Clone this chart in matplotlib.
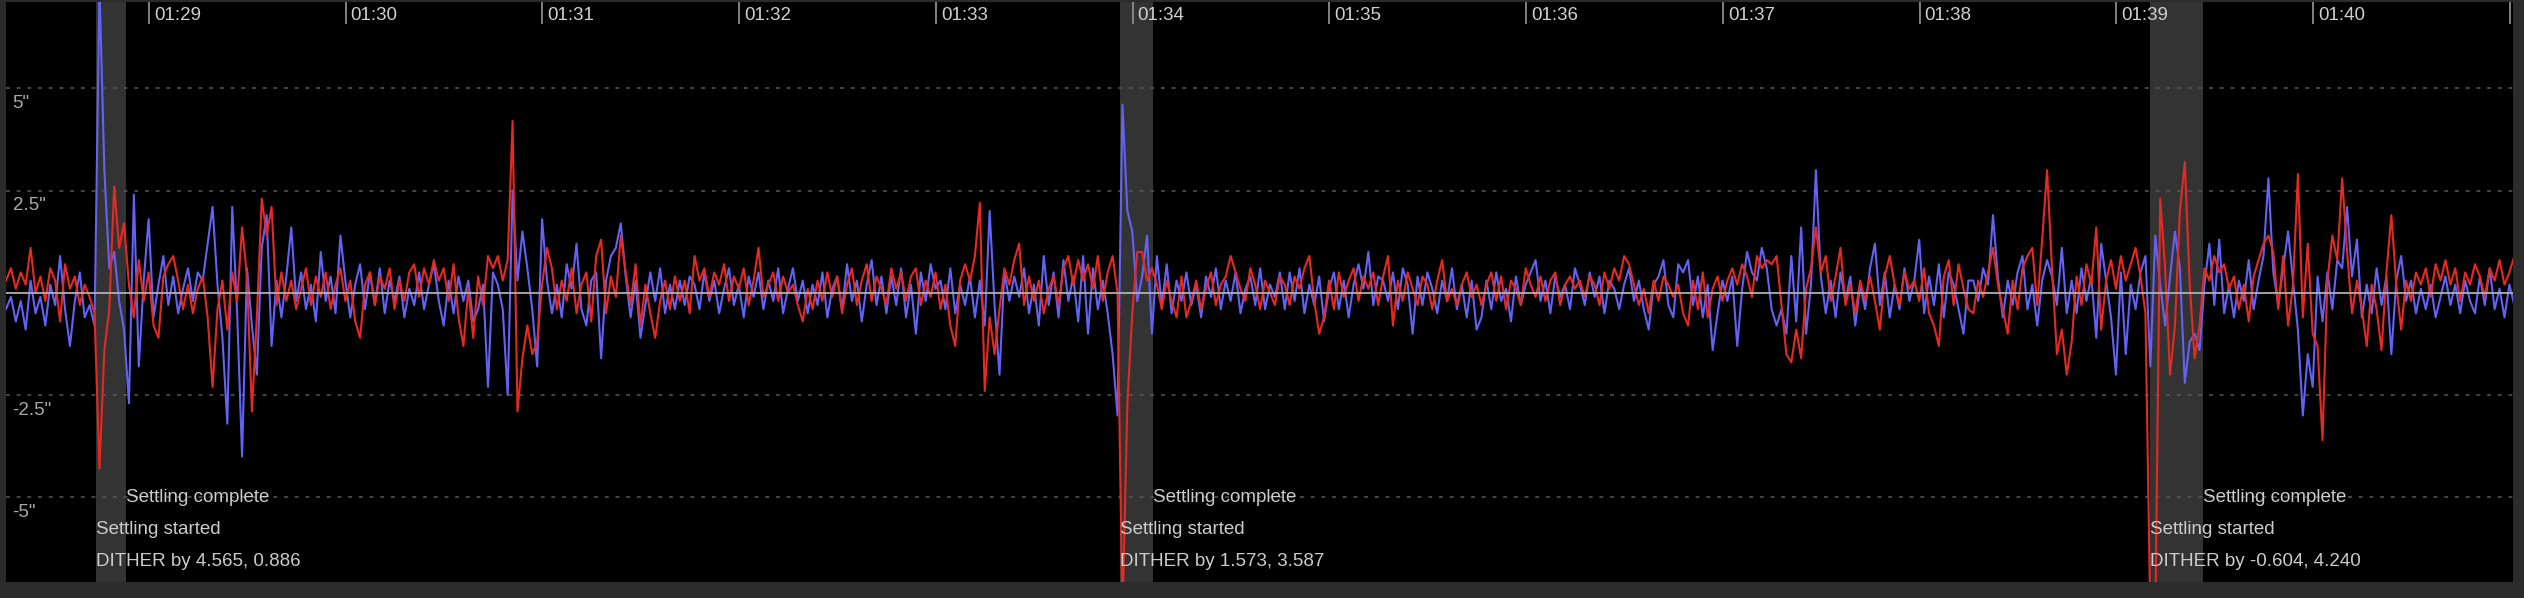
import matplotlib
matplotlib.use("Agg")
import matplotlib.pyplot as plt
import numpy as np

plt.rcParams["font.family"] = ["Liberation Sans", "DejaVu Sans"]

# guide log: one sample every 1.5 s, first sample at 01:28:16.4 (seconds since 00:00)
start_s = 5296.4
step_s = 1.5
view_end_s = 6061.0

# RA error (arcsec), blue
ra = [
    -0.4, -0.1, -0.7, -0.2, -0.9, 0.3, -0.5, -0.1, -0.8, 0.2, -0.3, 0.9, -0.4, -1.3, -0.2, 0.5, -0.6, -0.3, -0.8, 7.5,
    3.0, 0.6, 1.0, -0.2, -0.9, -2.7, 2.4, -1.8, 0.3, 1.8, -0.6, 0.2, 0.9, -0.3, 0.4, -0.5, 0.1, 0.6, -0.2, 0.5,
    0.3, 1.2, 2.1, 0.2, -1.1, -3.2, 2.1, -0.5, -4.0, 0.6, -0.8, -2.0, 1.1, 1.9, -1.3, 0.3, -0.6, 0.4, 1.6, -0.2,
    0.5, -0.4, 0.2, -0.7, 1.0, -0.2, 0.4, -0.5, 1.4, 0.3, -0.6, 0.2, 0.7, -0.4, 0.5, -0.3, 0.6, -0.5, 0.3, -0.2,
    0.4, -0.6, 0.1, -0.3, 0.5, -0.4, 0.2, 0.7, -0.2, -0.8, 0.3, -0.5, 0.4, -0.2, 0.3, -0.7, -0.4, 0.2, -2.3, 0.5,
    0.2, -0.4, -2.5, 2.5, 0.3, 1.5, 0.6, -0.4, -1.8, 1.8, 0.3, -0.5, 0.2, -0.6, 0.7, 0.1, 1.2, -0.4, -0.8, 0.3,
    0.5, -1.6, 0.3, 0.9, 1.1, 1.7, 0.4, -0.6, 0.3, -1.1, -0.3, 0.5, -0.2, 0.6, -0.5, 0.2, -0.4, 0.3, -0.3, 0.4,
    0.2, -0.4, 0.5, -0.2, 0.3, -0.5, 0.1, 0.6, -0.3, 0.2, -0.6, 0.4, -0.1, 0.5, -0.4, 0.3, -0.2, 0.6, -0.5, 0.1,
    0.6, -0.2, 0.3, -0.5, 0.2, -0.3, 0.5, -0.6, 0.1, 0.4, -0.4, 0.7, -0.2, 0.3, -0.7, 0.2, 0.8, -0.3, 0.4, -0.5,
    0.4, -0.3, 0.6, -0.6, 0.2, -1.0, 0.5, -0.2, 0.7, 0.1, 0.3, -0.4, 0.6, -0.5, 0.2, -0.3, 0.4, -0.6, 0.3, -0.8,
    2.0, -0.3, -2.0, 0.5, -0.2, 0.4, -0.1, 0.6, -0.5, 0.2, -0.8, 0.9, -0.3, 0.5, -0.6, 0.8, -0.2, 0.4, -0.7, 0.9,
    -1.0, 0.6, -0.4, 0.3, -0.5, -1.5, -3.0, 4.6, 2.0, 1.5, -0.2, 0.4, 1.4, -1.0, 0.9, -0.3, 0.7, -0.5, 0.3, -0.2,
    0.5, -0.3, 0.2, -0.6, 0.4, -0.1, 0.6, -0.4, 0.3, -0.2, 0.5, -0.5, 0.1, 0.4, -0.3, 0.6, -0.4, 0.2, -0.1, 0.5,
    -0.4, 0.5, -0.2, 0.6, -0.5, 0.2, -0.3, 0.4, -0.7, 0.1, 0.5, -0.4, 0.3, -0.6, 0.2, 0.7, 0.1, 1.0, -0.3, 0.4,
    0.3, -0.2, 0.5, -0.4, 0.6, 0.2, -1.0, 0.4, -0.3, 0.5, 0.1, -0.5, 0.3, -0.2, 0.6, -0.4, 0.2, -0.6, 0.3, -0.9,
    -0.6, 0.3, -0.4, 0.5, -0.2, 0.1, -0.7, 0.4, -0.3, 0.2, 0.5, 0.8, -0.2, 0.3, -0.5, 0.4, -0.1, 0.2, -0.4, 0.6,
    0.2, -0.3, 0.5, -0.1, 0.4, -0.5, 0.3, 0.1, -0.4, 0.2, 0.6, -0.2, 0.3, -0.4, -0.9, 0.2, 0.4, 0.8, -0.3, -0.6,
    0.7, 0.5, 0.8, -0.3, 0.4, -0.6, 0.2, -1.4, -0.5, 0.3, -0.2, 0.4, -1.3, 0.1, 1.0, 0.5, 0.3, 1.1, 0.6, -0.4,
    -0.8, -0.4, -1.0, 0.9, -0.7, 1.6, -1.0, 0.2, 3.0, 0.4, -0.5, 0.3, -0.6, 0.5, -0.2, 0.4, -0.8, 0.2, -0.4, 0.6,
    1.2, -0.3, 0.5, -0.6, 0.2, -0.4, 0.6, -0.2, 0.3, 1.3, -0.5, 0.4, -0.3, 0.7, -0.6, 0.5, 0.2, -0.4, -1.0, 0.3,
    0.3, -0.2, 0.6, 0.2, 1.9, 0.4, -0.6, 0.3, -0.3, 0.5, 0.9, -0.4, 0.2, -0.8, 0.3, 0.8, 0.4, -0.3, 1.1, -0.5,
    0.3, -0.5, 0.6, -0.2, 0.4, -1.1, 1.2, 0.3, -0.6, -2.0, 0.5, -1.5, 0.2, -0.4, 0.5, 0.9, -1.8, 1.4, 0.2, -0.8,
    0.4, 1.5, 0.6, -2.2, -1.2, -1.0, -1.4, 0.2, 1.2, -0.3, 1.3, -0.5, 0.2, -0.6, 0.3, -0.2, 0.8, -0.4, 0.3, 0.9,
    2.8, 0.5, -0.3, 0.6, 1.5, 0.3, -0.9, -3.0, -1.5, -2.3, 0.4, -0.7, 0.5, -0.4, 0.8, 0.6, 2.1, 0.4, 1.3, -0.6,
    0.2, -0.5, 0.6, -0.3, 0.4, -1.5, 0.3, 0.9, -0.2, 0.3, -0.5, 0.1, -0.4, 0.2, -0.6, -0.1, 0.4, -0.3, 0.2, -0.5,
    0.3, -0.2, -0.5, 0.4, -0.3, 0.6, -0.4, 0.1, -0.6, 0.2, -0.3,
]

# Dec error (arcsec), red
dec = [
    0.3, 0.6, 0.1, 0.5, 0.2, 1.1, 0.0, 0.4, -0.2, 0.6, 0.3, -0.7, 0.7, 0.1, 0.4, -0.3, 0.2, -0.1, -0.5, -4.3,
    -1.4, -0.4, 2.6, 1.1, 1.7, 0.2, -0.6, 0.8, -0.2, 0.5, -0.8, -1.1, 0.4, 0.7, 0.9, 0.3, -0.4, 0.2, -0.5, 0.1,
    0.4, -0.6, -2.3, -0.4, 0.3, -0.9, 0.5, -0.2, 1.6, 0.4, -2.9, -0.6, 2.3, 1.4, 2.1, -0.3, 0.5, -0.2, 0.3, -0.4,
    0.1, 0.6, -0.3, 0.4, -0.1, 0.5, -0.4, 0.2, 0.6, -0.2, 0.3, -0.7, -1.1, 0.2, 0.5, -0.3, 0.4, 0.1, 0.6, -0.4,
    0.3, -0.2, 0.5, 0.7, -0.1, 0.6, 0.2, 0.8, 0.3, 0.6, -0.2, 0.7, -0.6, -1.3, 0.1, -1.1, 0.4, -0.3, 0.9, 0.6,
    0.9, 0.3, 0.8, 4.2, -2.9, -1.6, -0.8, -1.5, -1.2, 0.2, 1.1, 0.6, -0.4, 0.3, -0.2, 0.6, -0.5, 0.2, 0.5, -0.7,
    0.9, 1.3, -0.5, 0.4, -0.1, 1.4, 0.5, -0.3, 0.7, -0.8, 0.2, -0.5, -1.1, -0.2, 0.3, -0.4, 0.4, -0.2, 0.3, -0.5,
    0.9, 0.3, 0.6, -0.1, 0.5, 0.2, 0.7, -0.2, 0.4, 0.1, 0.6, -0.3, 0.3, 1.1, -0.1, 0.2, 0.5, -0.2, 0.4, 0.0,
    0.2, -0.3, -0.7, 0.1, -0.4, 0.3, -0.2, 0.5, -0.1, 0.4, -0.5, 0.2, 0.6, -0.3, 0.3, 0.7, -0.2, 0.4, 0.1, -0.3,
    0.6, 0.1, 0.5, -0.2, 0.4, 0.6, -0.3, 0.3, -0.1, 0.5, -0.4, 0.2, -0.8, -1.3, 0.3, 0.7, 0.3, 0.9, 2.2, -2.4,
    -0.6, -1.5, -0.4, 0.6, 0.2, 0.8, 1.2, -0.3, 0.4, -0.2, 0.3, -0.5, 0.1, 0.4, -0.3, 0.6, 0.9, 0.2, 0.8, 0.3,
    0.7, 0.1, 0.9, -0.2, 0.5, 0.9, 0.0, -8.0, -2.7, -0.5, 1.0, 1.0, 0.3, 0.6, 0.2, -0.4, 0.3, -0.2, -0.6, 0.4,
    -0.6, -0.2, 0.3, -0.4, 0.1, 0.5, -0.3, 0.2, 0.4, 0.9, 0.5, 0.1, -0.2, 0.6, 0.2, -0.4, 0.3, 0.0, -0.3, 0.4,
    0.2, -0.3, 0.4, 0.1, 0.6, 0.9, -0.2, -1.0, -0.6, 0.3, -0.4, 0.5, -0.1, 0.3, 0.6, -0.2, 0.4, 0.1, 0.5, -0.3,
    0.4, 0.9, -0.8, 0.3, -0.2, 0.5, 0.1, -0.3, 0.4, 0.2, -0.4, 0.3, 0.8, -0.2, 0.1, -0.3, 0.2, 0.5, -0.1, 0.2,
    -0.3, 0.2, 0.5, -0.2, 0.4, -0.4, 0.3, 0.1, -0.3, 0.6, 0.2, -0.1, 0.4, -0.2, 0.3, 0.5, -0.3, 0.2, 0.4, 0.1,
    0.3, -0.1, 0.4, 0.2, -0.3, 0.5, 0.1, 0.6, 0.3, 0.9, 0.7, 0.2, -0.3, 0.1, -0.5, 0.3, -0.2, 0.4, 0.2, -0.1,
    0.2, -0.5, -0.8, 0.3, -0.4, 0.5, -0.6, 0.1, 0.4, -0.2, 0.3, 0.6, 0.2, 0.7, 0.4, -0.1, 0.9, 0.6, 0.8, 0.7,
    0.9, -0.3, -1.5, -1.7, -0.9, -1.6, 0.1, 0.6, 1.6, 0.5, 0.9, -0.2, 0.4, 1.1, -0.3, 0.2, -0.5, 0.3, -0.2, 0.4,
    -0.2, -0.9, 0.4, 0.9, 0.2, -0.3, 0.5, 0.1, 0.3, -0.2, 0.6, -0.5, -0.8, -1.3, 0.4, 0.8, -0.3, 0.7, 0.1, -0.4,
    -0.5, 0.3, -0.1, 0.5, 1.1, 0.2, -0.4, -1.0, 0.3, -0.4, 0.6, 0.9, 1.1, -0.3, 1.3, 3.0, 0.6, -1.5, -0.9, -2.0,
    -1.2, 0.4, -0.3, 0.7, 0.2, 1.6, -0.9, 0.3, 0.8, 0.1, 0.9, 0.3, 0.7, 1.1, 0.4, -0.5, -8.0, -8.0, 2.3, 0.6,
    -2.0, -0.8, 2.0, 3.2, 0.2, -1.6, -0.8, 0.6, 0.3, 0.9, 0.5, 0.7, 0.1, 0.4, -0.4, 0.2, -0.7, 0.4, 0.8, 1.2,
    1.4, 1.0, -0.4, 0.9, -0.8, 0.2, 2.9, -0.6, 1.2, -1.0, -1.3, -3.6, 0.3, 1.4, 0.8, 2.8, 1.0, -0.5, 0.3, -0.4,
    -1.3, 0.2, -0.4, -1.4, 0.5, 1.9, 0.2, -0.9, 0.3, -0.2, 0.5, 0.2, 0.6, -0.1, 0.7, 0.3, 0.8, 0.2, 0.6, -0.2,
    0.5, 0.2, 0.7, 0.4, -0.1, 0.6, 0.3, 0.8, 0.2, 0.5, 0.9,
]

# settling events (seconds since 00:00)
settle_start = [5323.85, 5636.1, 5950.3]
settle_end = [5332.9, 5646.2, 5966.4]
dither_labels = ["DITHER by 4.565, 0.886", "DITHER by 1.573, 3.587", "DITHER by -0.604, 4.240"]

# time ticks along the top (the last one sits on the right edge, label cut away)
tick_minutes = [89, 90, 91, 92, 93, 94, 95, 96, 97, 98, 99, 100, 101]
tick_labels = ["01:29", "01:30", "01:31", "01:32", "01:33", "01:34", "01:35",
               "01:36", "01:37", "01:38", "01:39", "01:40", "01:41"]

grid_values = [5, 2.5, -2.5, -5]
grid_labels = ['5"', '2.5"', '-2.5"', '-5"']

W, H = 2524, 598
PX = 72 / 100  # points per pixel at dpi 100

fig = plt.figure(figsize=(W / 100, H / 100), dpi=100, facecolor="#2b2b2b")
ax = fig.add_axes([6 / W, 16 / H, 2507 / W, 580 / H])
ax.set_facecolor("black")
ax.set_xlim(start_s, view_end_s)
ax.set_ylim(-7.07, 7.11)
ax.set_xticks([])
ax.set_yticks([])
for s in ax.spines.values():
    s.set_visible(False)

t = start_s + step_s * np.arange(len(ra))

for a, b in zip(settle_start, settle_end):
    ax.axvspan(a, b, color="#333333", lw=0, zorder=0)

for v, lab in zip(grid_values, grid_labels):
    ax.axhline(v, color="#5a5a5a", lw=1.1, ls=(0, (2.5, 4.5)), zorder=1)
    ax.annotate(lab, xy=(0, v), xycoords=ax.get_yaxis_transform(),
                xytext=(6.5 * PX, -15 * PX), textcoords="offset points",
                ha="left", va="center", color="#a8a8a8", fontsize=13.5)

ax.plot(t, ra, color="#6262f4", lw=1.5, zorder=2)
ax.plot(t, dec, color="#e52a22", lw=1.5, zorder=3)
ax.axhline(0, color="#b0b0b0", lw=1.3, zorder=4)

xt = ax.get_xaxis_transform()
for m, lab in zip(tick_minutes, tick_labels):
    ts = m * 60
    ax.axvline(ts, ymin=1 - 21 / 580, ymax=1, color="#8c8c8c", lw=1.3, zorder=5)
    if ts + 20 < view_end_s:
        ax.annotate(lab, xy=(ts, 1), xycoords=xt, xytext=(5 * PX, -13 * PX),
                    textcoords="offset points", ha="left", va="center",
                    color="#cfcfcf", fontsize=13.5)

for a, b, lab in zip(settle_start, settle_end, dither_labels):
    ax.text(b, 84 / 580, "Settling complete", transform=xt, ha="left", va="center",
            color="#cccccc", fontsize=13.5, zorder=6)
    ax.text(a, 52 / 580, "Settling started", transform=xt, ha="left", va="center",
            color="#cccccc", fontsize=13.5, zorder=6)
    ax.text(a, 20 / 580, lab, transform=xt, ha="left", va="center",
            color="#cccccc", fontsize=13.5, zorder=6)

fig.savefig("out.png", dpi=100, facecolor=fig.get_facecolor())
